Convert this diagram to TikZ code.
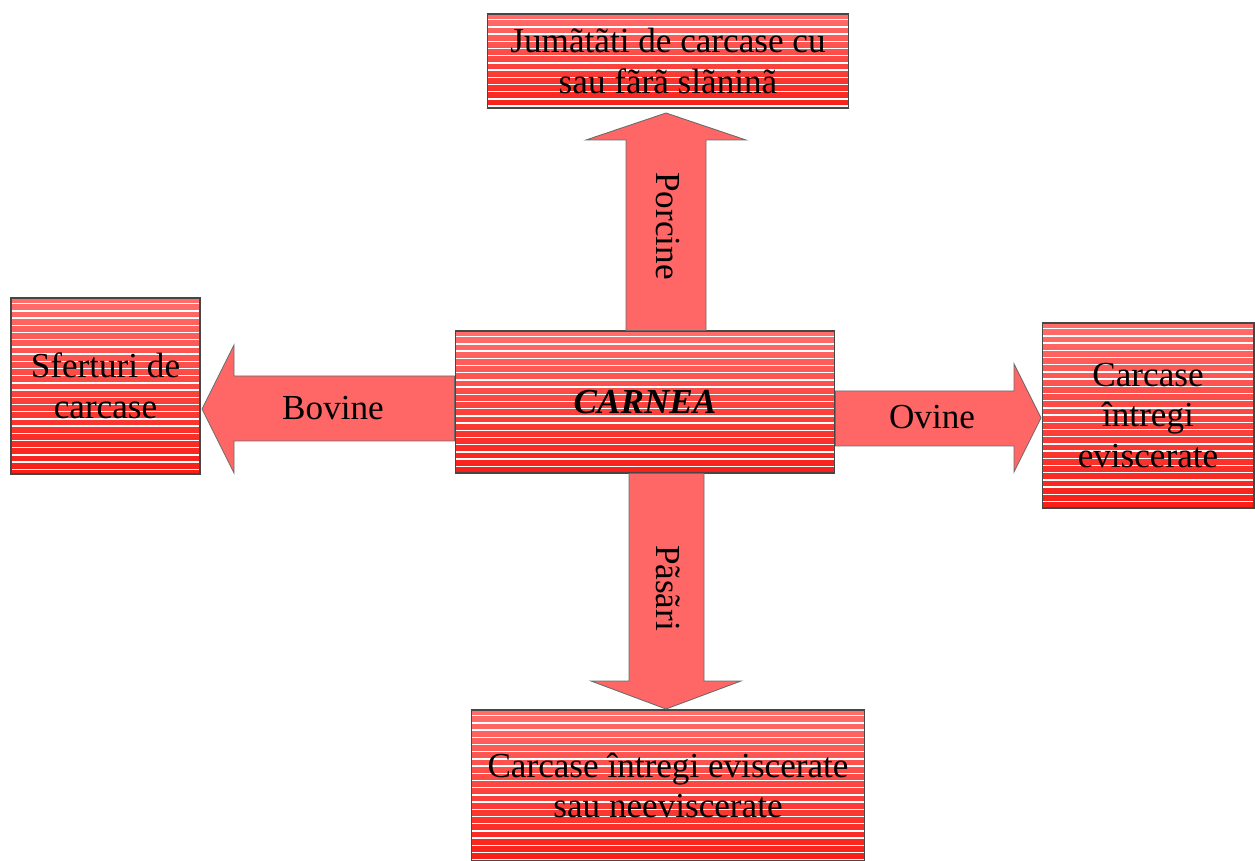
\documentclass[tikz,border=0pt]{standalone}
\usepackage{fontspec}
\setmainfont{Liberation Serif}
\usetikzlibrary{calc}

\definecolor{boxtop}{RGB}{255,110,108}
\definecolor{boxbot}{RGB}{248,30,22}
\definecolor{arrowfill}{RGB}{255,102,102}
\definecolor{edge}{RGB}{70,70,70}

\tikzset{
  stripebox/.style={
    draw=edge, line width=0.6pt, inner sep=2pt,
    top color=boxtop, bottom color=boxbot,
    align=center, font=\fontsize{20}{23}\selectfont,
    path picture={
      \foreach \k in {0,...,40}
        \draw[white, line width=0.75pt]
          ($(path picture bounding box.north west)+(-2,5.7+7.2*\k)$) -- ++(500,0);
    }
  },
  blockarrow/.style={fill=arrowfill, draw=edge!80, line width=0.5pt, line join=miter},
  arrowlabel/.style={font=\fontsize{20}{23}\selectfont, inner sep=0pt}
}

\begin{document}
\begin{tikzpicture}[x=0.02cm, y=-0.02cm]
  \useasboundingbox (0,0) rectangle (1255,861);

  % boxes
  \node[stripebox, minimum width=7.24cm, minimum height=1.88cm] (top) at (668,61)
    {Jumãtãti de carcase cu\\sau fãrã slãninã};
  \node[stripebox, minimum width=7.6cm, minimum height=2.84cm] (carnea) at (645,402)
    {\textbf{\textit{CARNEA}}};
  \node[stripebox, minimum width=3.78cm, minimum height=3.52cm] (left) at (105.5,386)
    {Sferturi de\\carcase};
  \node[stripebox, minimum width=4.24cm, minimum height=3.7cm] (right) at (1148,415.5)
    {Carcase\\întregi\\eviscerate};
  \node[stripebox, minimum width=7.88cm, minimum height=3.02cm] (bottom) at (668,785.5)
    {Carcase întregi eviscerate\\sau neeviscerate};

  % up arrow: porcine
  \draw[blockarrow] (626,0 |- carnea.north) -- (626,140) -- (586,140)
    -- (666,113) -- (746,140) -- (706,140) -- (706,0 |- carnea.north) -- cycle;
  \node[arrowlabel, rotate=-90] (porcine) at (668,226) {Porcine};

  % left arrow: bovine
  \draw[blockarrow] (carnea.west |- 0,376) -- (234,376) -- (234,345)
    -- (202,409) -- (234,473) -- (234,441) -- (carnea.west |- 0,441) -- cycle;
  \node[arrowlabel] (bovine) at (333,408) {Bovine};

  % right arrow: ovine
  \draw[blockarrow] (carnea.east |- 0,391) -- (1014,391) -- (1014,364)
    -- (1041,418) -- (1014,472) -- (1014,446) -- (carnea.east |- 0,446) -- cycle;
  \node[arrowlabel] (ovine) at (932,417) {Ovine};

  % down arrow: pasari
  \draw[blockarrow] (629,0 |- carnea.south) -- (629,681) -- (591,681)
    -- (666,709) -- (741,681) -- (704,681) -- (704,0 |- carnea.south) -- cycle;
  \node[arrowlabel, rotate=-90] (pasari) at (668,588) {Pãsãri};
\end{tikzpicture}
\end{document}
